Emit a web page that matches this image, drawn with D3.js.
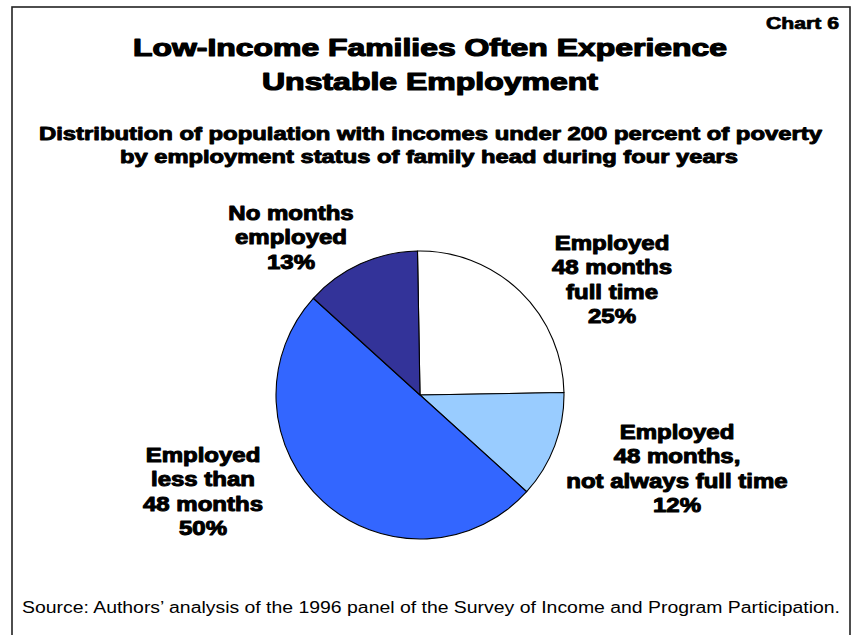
<!DOCTYPE html>
<html>
<head>
<meta charset="utf-8">
<script src="https://cdn.jsdelivr.net/npm/d3@7/dist/d3.min.js"></script>
<style>
  html, body { margin: 0; padding: 0; background: #fff; }
  svg { display: block; }
</style>
</head>
<body>
<svg id="chart" width="856" height="635"></svg>
<script>
// Employment status of family head, share of low-income population (percent)
const categories = [
  "Employed 48 months full time",
  "Employed 48 months, not always full time",
  "Employed less than 48 months",
  "No months employed"
];
const shares = [25, 12, 50, 13];
const sliceColors = ["#FFFFFF", "#99CCFF", "#3366FF", "#333399"];
const labelLines = [
  ["Employed", "48 months", "full time"],
  ["Employed", "48 months,", "not always full time"],
  ["Employed", "less than", "48 months"],
  ["No months", "employed"]
];
const titleLines = ["Low-Income Families Often Experience", "Unstable Employment"];
const subtitleLines = [
  "Distribution of population with incomes under 200 percent of poverty",
  "by employment status of family head during four years"
];
const chartTag = "Chart 6";
const sourceNote = "Source: Authors\u2019 analysis of the 1996 panel of the Survey of Income and Program Participation.";

const svg = d3.select("#chart");
const heavy = "'Liberation Sans', Arial, sans-serif";

// Outer frame (open at the bottom edge of the page)
svg.append("rect")
  .attr("x", 12).attr("y", 7)
  .attr("width", 838).attr("height", 660)
  .attr("fill", "none").attr("stroke", "#222").attr("stroke-width", 1.6);

// Heavy bold text: bold face thickened with a stroke and widened to a target width
function heavyText(x, y, str, size, opts = {}) {
  const t = svg.append("text")
    .attr("x", x).attr("y", y)
    .attr("text-anchor", opts.anchor || "middle")
    .attr("font-family", heavy)
    .attr("font-weight", "bold")
    .attr("font-size", size)
    .attr("fill", "#000")
    .attr("stroke", "#000")
    .attr("stroke-width", opts.stroke != null ? opts.stroke : 0.9)
    .attr("stroke-linejoin", "round")
    .text(str);
  const natural = t.node().getComputedTextLength();
  const target = opts.width != null ? opts.width : natural * (opts.stretch || 1.12);
  t.attr("textLength", target).attr("lengthAdjust", "spacingAndGlyphs");
  return t;
}

// Chart number
heavyText(839, 29, chartTag, 16, { anchor: "end", width: 73, stroke: 0.7 });

// Title
heavyText(430, 56, titleLines[0], 24, { width: 594, stroke: 1.2 });
heavyText(430, 90, titleLines[1], 24, { width: 336, stroke: 1.2 });

// Subtitle
heavyText(430.5, 140, subtitleLines[0], 18, { width: 783, stroke: 0.9 });
heavyText(429, 163, subtitleLines[1], 18, { width: 618, stroke: 0.9 });

// Pie
const cx = 420, cy = 395, radius = 144;
const pie = d3.pie().sort(null).value(d => d)
  .startAngle(-Math.PI / 180)
  .endAngle(2 * Math.PI - Math.PI / 180);
const arcs = pie(shares);
const arc = d3.arc().innerRadius(0).outerRadius(radius);

const g = svg.append("g").attr("transform", `translate(${cx},${cy})`);
g.selectAll("path.slice")
  .data(arcs)
  .join("path")
  .attr("class", "slice")
  .attr("d", arc)
  .attr("fill", (d, i) => sliceColors[i])
  .attr("stroke", "#000")
  .attr("stroke-width", 1.1)
  .attr("stroke-linejoin", "round");

// Slice labels: category text lines followed by the share
const labelPos = [
  { x: 612, y: 250 },
  { x: 677, y: 439 },
  { x: 203, y: 462 },
  { x: 291, y: 220 }
];
const lineStep = 24.3;
labelLines.forEach((lines, i) => {
  const all = lines.concat([shares[i] + "%"]);
  all.forEach((s, k) => {
    heavyText(labelPos[i].x, labelPos[i].y + k * lineStep, s, 20, { stroke: 1.0, stretch: 1.2 });
  });
});

// Source note
svg.append("text")
  .attr("x", 22).attr("y", 613)
  .attr("font-family", heavy)
  .attr("font-size", 16)
  .attr("fill", "#000")
  .attr("textLength", 818)
  .attr("lengthAdjust", "spacingAndGlyphs")
  .text(sourceNote);
</script>
</body>
</html>
